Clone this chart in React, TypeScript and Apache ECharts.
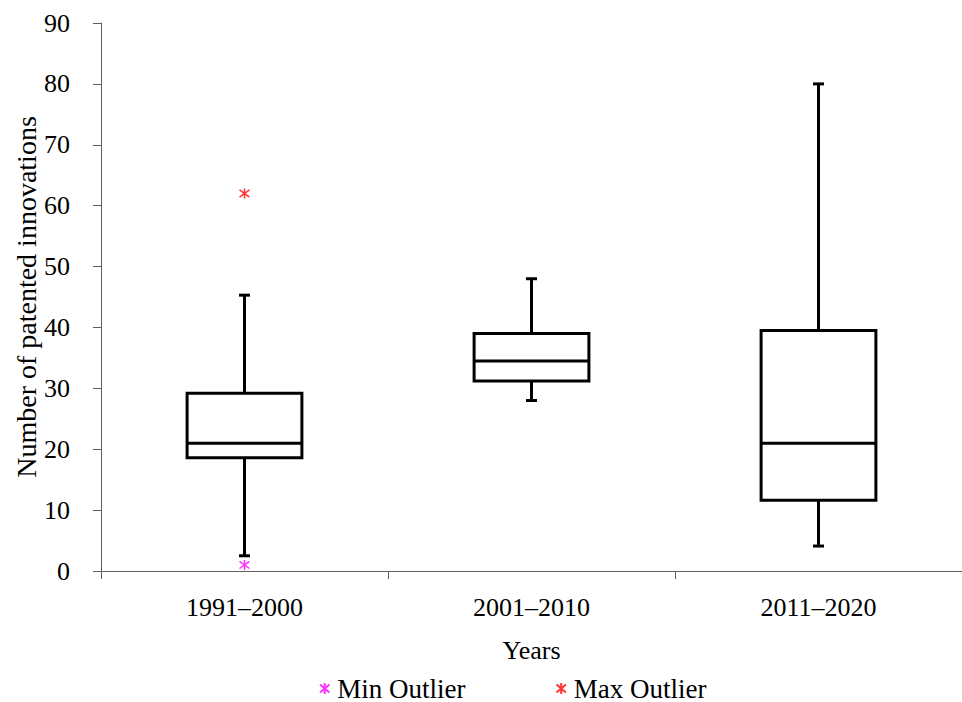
import React, { useEffect, useRef } from "react";
import * as echarts from "echarts";

const categories = ["1991–2000", "2001–2010", "2011–2020"];
// [lower whisker, Q1, median, Q3, upper whisker]
const boxStats = [
  [2.5, 18.6, 21.0, 29.2, 45.3],
  [28.0, 31.2, 34.5, 39.0, 48.0],
  [4.1, 11.6, 21.0, 39.5, 80.0],
];
const minOutliers = [[0, 1.0]];
const maxOutliers = [[0, 62.0]];
const yTicks = { min: 0, max: 90, interval: 10 };

const FONT = "Liberation Serif";
const asterisk = "path://M0,-5L0,5M-4.3,-3.6L4.3,3.6M-4.3,3.6L4.3,-3.6";

export default function App() {
  const ref = useRef<HTMLDivElement>(null);
  useEffect(() => {
    if (!ref.current) return;
    const chart = echarts.init(ref.current, undefined, { renderer: "svg" });
    const boxData = boxStats.map((s, i) => [i, ...s]);
    chart.setOption({
      animation: false,
      backgroundColor: "#ffffff",
      textStyle: { fontFamily: FONT, color: "#000" },
      grid: { left: 101, width: 864, top: 23, height: 548, containLabel: false },
      legend: {
        top: 670,
        left: 314,
        itemGap: 90,
        itemWidth: 11,
        itemHeight: 11,
        textStyle: { fontFamily: FONT, fontSize: 27, color: "#000", padding: [0, 0, 0, 2] },
        data: ["Min Outlier", "Max Outlier"],
      },
      xAxis: {
        type: "category",
        data: categories,
        name: "Years",
        nameLocation: "middle",
        nameGap: 66,
        nameMoveOverlap: false,
        nameTextStyle: { fontFamily: FONT, fontSize: 26, color: "#000" },
        axisLine: { lineStyle: { color: "#5f5f5f", width: 1 } },
        axisTick: { show: true, length: 8, lineStyle: { color: "#5f5f5f" } },
        axisLabel: { margin: 23, fontFamily: FONT, fontSize: 26, color: "#000" },
        splitLine: { show: false },
      },
      yAxis: {
        type: "value",
        min: yTicks.min,
        max: yTicks.max,
        interval: yTicks.interval,
        name: "Number of patented innovations",
        nameLocation: "middle",
        nameGap: 61,
        nameMoveOverlap: false,
        nameTextStyle: { fontFamily: FONT, fontSize: 28, color: "#000" },
        axisLine: { show: true, lineStyle: { color: "#5f5f5f", width: 1 } },
        axisTick: { show: true, length: 8, lineStyle: { color: "#5f5f5f" } },
        axisLabel: { margin: 31, fontFamily: FONT, fontSize: 26, color: "#000" },
        splitLine: { show: false },
      },
      series: [
        {
          type: "custom",
          name: "box",
          data: boxData,
          encode: { x: 0, y: [1, 2, 3, 4, 5] },
          renderItem: (params: any, api: any) => {
            const idx = api.value(0);
            const low = api.coord([idx, api.value(1)]);
            const q1 = api.coord([idx, api.value(2)]);
            const med = api.coord([idx, api.value(3)]);
            const q3 = api.coord([idx, api.value(4)]);
            const high = api.coord([idx, api.value(5)]);
            const bw = api.size([1, 0])[0] * 0.4;
            const cx = q1[0];
            const cap = 5.5;
            const st = { stroke: "#000", lineWidth: 3, fill: "none" };
            return {
              type: "group",
              children: [
                { type: "line", shape: { x1: cx, y1: high[1], x2: cx, y2: q3[1] }, style: st },
                { type: "line", shape: { x1: cx, y1: q1[1], x2: cx, y2: low[1] }, style: st },
                { type: "line", shape: { x1: cx - cap, y1: high[1], x2: cx + cap, y2: high[1] }, style: st },
                { type: "line", shape: { x1: cx - cap, y1: low[1], x2: cx + cap, y2: low[1] }, style: st },
                {
                  type: "rect",
                  shape: { x: cx - bw / 2, y: q3[1], width: bw, height: q1[1] - q3[1] },
                  style: { stroke: "#000", lineWidth: 3, fill: "#fff" },
                },
                { type: "line", shape: { x1: cx - bw / 2, y1: med[1], x2: cx + bw / 2, y2: med[1] }, style: st },
              ],
            };
          },
          z: 2,
        },
        {
          type: "scatter",
          name: "Min Outlier",
          data: minOutliers,
          symbol: asterisk,
          symbolSize: 10,
          itemStyle: { color: "#ff00ff", borderColor: "#ff00ff", borderWidth: 1.5 },
          z: 5,
        },
        {
          type: "scatter",
          name: "Max Outlier",
          data: maxOutliers,
          symbol: asterisk,
          symbolSize: 10,
          itemStyle: { color: "#ff0000", borderColor: "#ff0000", borderWidth: 1.5 },
          z: 5,
        },
      ],
    });
    return () => chart.dispose();
  }, []);
  return (
    <div
      ref={ref}
      style={{ position: "fixed", left: 0, top: 0, width: 962, height: 702, background: "#fff" }}
    />
  );
}
